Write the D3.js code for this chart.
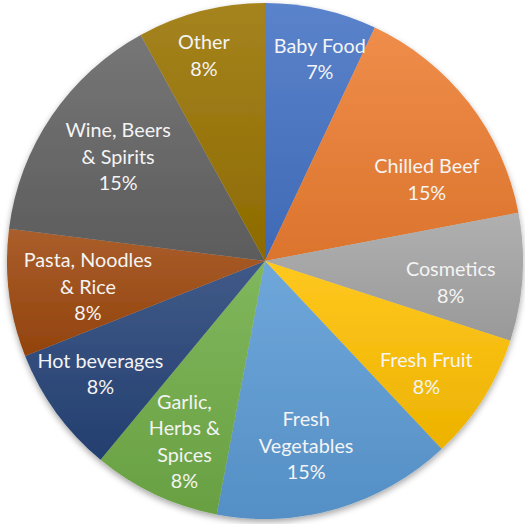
<!DOCTYPE html>
<html>
<head>
<meta charset="utf-8">
<script src="https://cdn.jsdelivr.net/npm/d3@7"></script>
<style>
  html, body { margin: 0; padding: 0; background: #ffffff; }
  svg { display: block; }
  text { font-family: Lato, "Open Sans", sans-serif; }
</style>
</head>
<body>
<svg id="chart" width="525" height="524"></svg>
<script>
// Share of sales by category (percent)
const categories = [
  "Baby Food", "Chilled Beef", "Cosmetics", "Fresh Fruit", "Fresh Vegetables",
  "Garlic, Herbs & Spices", "Hot beverages", "Pasta, Noodles & Rice",
  "Wine, Beers & Spirits", "Other"
];
const shares = [7, 15, 8, 8, 15, 8, 8, 8, 15, 8];

// How each category name wraps inside its slice
const labelLines = [
  ["Baby Food"], ["Chilled Beef"], ["Cosmetics"], ["Fresh Fruit"],
  ["Fresh", "Vegetables"], ["Garlic,", "Herbs &", "Spices"], ["Hot beverages"],
  ["Pasta, Noodles", "& Rice"], ["Wine, Beers", "& Spirits"], ["Other"]
];

const sliceColors = [
  "#4472C4", "#ED7D31", "#A5A5A5", "#FFC000", "#5B9BD5",
  "#70AD47", "#264478", "#9E480E", "#636363", "#997300"
];

// Label placement: distance from centre and a small turn (degrees) off the slice middle
const labelRadius = [209, 181, 187, 197, 190, 198, 200, 179, 180, 214];
const labelTurn   = [2.6, 11.2, 3.1, 2.6, 3.7, -1.2, 1.4, -1.2, 1.1, -2.2];

const cx = 265, cy = 261, radius = 258;
const lineHeight = 26.5;

const svg = d3.select("#chart");
const defs = svg.append("defs");

// Soft shadow under the pie
const shadow = defs.append("filter").attr("id", "pieShadow")
  .attr("x", "-10%").attr("y", "-10%").attr("width", "120%").attr("height", "120%");
shadow.append("feDropShadow")
  .attr("dx", 0).attr("dy", 3).attr("stdDeviation", 3)
  .attr("flood-color", "#000").attr("flood-opacity", 0.35);

// Vertical gradient per slice: lighter on top, deeper at the bottom
sliceColors.forEach((c, i) => {
  const g = defs.append("linearGradient").attr("id", "grad" + i)
    .attr("x1", 0).attr("y1", 0).attr("x2", 0).attr("y2", 1);
  g.append("stop").attr("offset", "0%").attr("stop-color", d3.interpolateRgb(c, "#ffffff")(0.12));
  g.append("stop").attr("offset", "100%").attr("stop-color", d3.color(c).darker(0.22).formatHex());
});

const data = categories.map((name, i) => ({ name, value: shares[i], i }));

const pie = d3.pie().value(d => d.value).sort(null);
const arc = d3.arc().innerRadius(0).outerRadius(radius);
const arcs = pie(data);

const g = svg.append("g").attr("transform", `translate(${cx},${cy})`);

g.append("g").attr("filter", "url(#pieShadow)")
  .selectAll("path")
  .data(arcs)
  .join("path")
  .attr("d", arc)
  .attr("fill", d => `url(#grad${d.data.i})`);

const labels = g.append("g")
  .selectAll("text")
  .data(arcs)
  .join("text")
  .attr("text-anchor", "middle")
  .attr("font-size", 19.8)
  .attr("fill", "#f4f4f4")
  .each(function (d) {
    const i = d.data.i;
    const mid = (d.startAngle + d.endAngle) / 2 + labelTurn[i] * Math.PI / 180;
    const r = labelRadius[i];
    const x = r * Math.sin(mid);
    const y = -r * Math.cos(mid);
    const lines = labelLines[i].concat([d.data.value + "%"]);
    const firstBaseline = y - (lines.length - 1) * lineHeight / 2 + 6.5;
    const t = d3.select(this);
    lines.forEach((line, k) => {
      t.append("tspan")
        .attr("x", x)
        .attr("y", firstBaseline + k * lineHeight)
        .text(line);
    });
  });
</script>
</body>
</html>
